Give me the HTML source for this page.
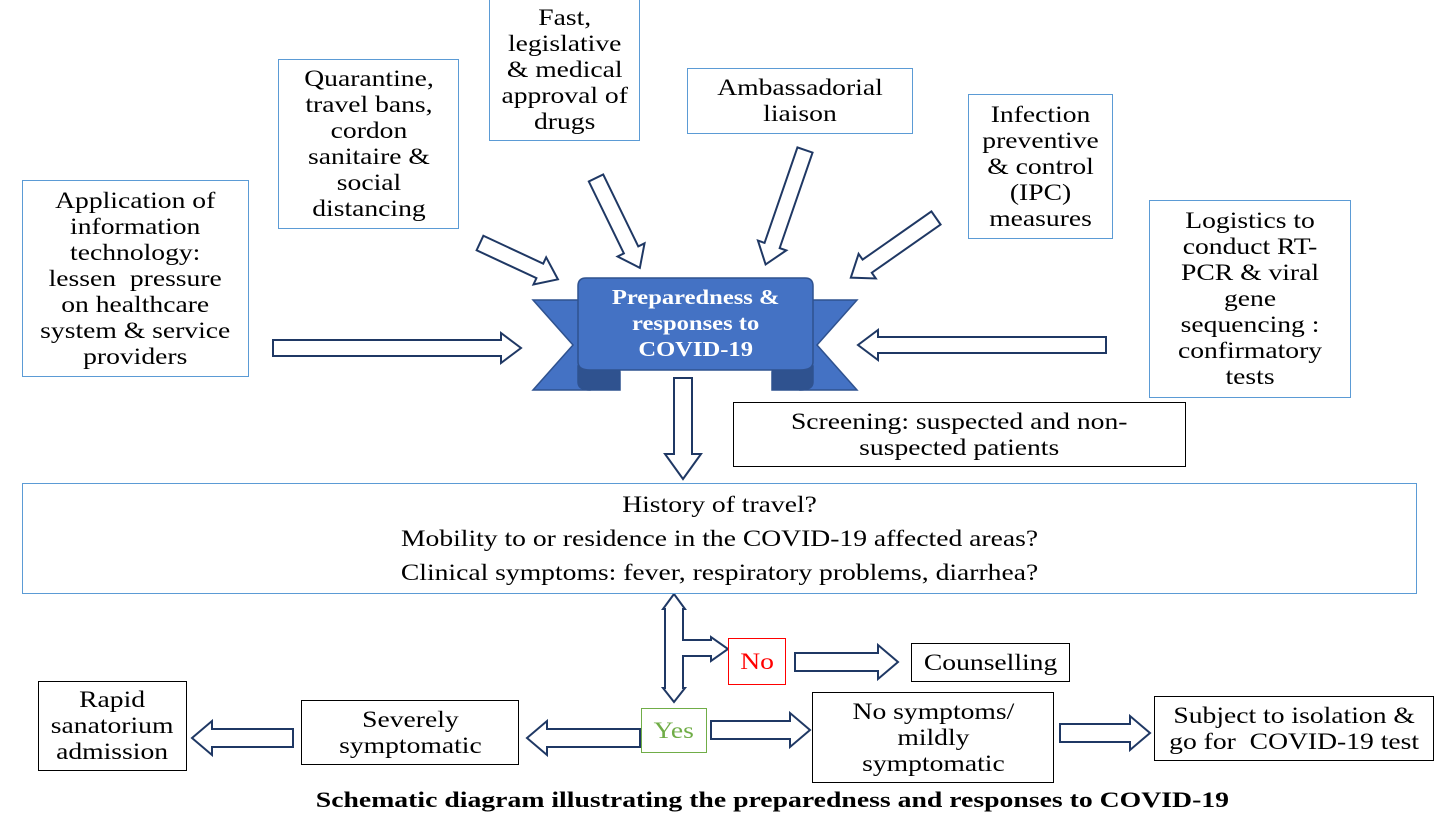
<!DOCTYPE html>
<html><head><meta charset="utf-8"><style>
body{margin:0;width:1443px;height:819px;background:#fff;position:relative;overflow:hidden;font-family:"Liberation Serif",serif;}
.b{position:absolute;box-sizing:border-box;border:1.5px solid #5b9bd5;display:flex;align-items:center;justify-content:center;text-align:center;font-size:23px;line-height:26px;color:#000;background:#fff;}
.b>span{display:inline-block;white-space:nowrap;transform:scaleX(1.2);}
.k{border-color:#000;}
svg{position:absolute;left:0;top:0;}
</style></head><body>
<svg width="1443" height="819">
<g fill="#fff" stroke="#1f3864" stroke-width="2">
<polygon transform="translate(273,348)" points="0,-8 228,-8 228,-15 248,0 228,15 228,8 0,8"/>
<polygon transform="translate(1106,345) rotate(180)" points="0,-8 228,-8 228,-15 248,0 228,15 228,8 0,8"/>
<polygon transform="translate(480,243) rotate(25)" points="0,-8 66,-8 66,-15 86,0 66,15 66,8 0,8"/>
<polygon transform="translate(596,178) rotate(64)" points="0,-8 80,-8 80,-15 100,0 80,15 80,8 0,8"/>
<polygon transform="translate(805,150) rotate(109)" points="0,-8 101,-8 101,-15 121,0 101,15 101,8 0,8"/>
<polygon transform="translate(936,218) rotate(145)" points="0,-8 84,-8 84,-15 104,0 84,15 84,8 0,8"/>
<polygon transform="translate(683,378) rotate(90)" points="0,-9 76,-9 76,-18 101,0 76,18 76,9 0,9"/>
<polygon points="674,594 685,609 683,609 683,640 711,640 711,637 728,649 711,661 711,656 683,656 683,688 685,688 674,702 663,688 665,688 665,609 663,609"/>
<polygon transform="translate(795,662)" points="0,-9 83,-9 83,-17 103,0 83,17 83,9 0,9"/>
<polygon transform="translate(711,730)" points="0,-9 79,-9 79,-17 99,0 79,17 79,9 0,9"/>
<polygon transform="translate(640,738) rotate(180)" points="0,-9 93,-9 93,-17 113,0 93,17 93,9 0,9"/>
<polygon transform="translate(293,738) rotate(180)" points="0,-9 81,-9 81,-17 101,0 81,17 81,9 0,9"/>
<polygon transform="translate(1060,733)" points="0,-9 70,-9 70,-17 90,0 70,17 70,9 0,9"/>
</g>
<g stroke="#2f528f" stroke-width="1.5">
<polygon points="533,300 590,300 590,390 533,390 573,345" fill="#4472c4"/>
<polygon points="857,300 800,300 800,390 857,390 817,345" fill="#4472c4"/>
<path d="M578,366 L578,382 Q578,390 590,390 L620,390 L620,372 Q620,366 605,366 Z" fill="#2f528f"/>
<path d="M813,366 L813,382 Q813,390 800,390 L772,390 L772,372 Q772,366 790,366 Z" fill="#2f528f"/>
<path d="M586,278 L805,278 Q813,278 813,286 L813,362 Q813,370 800,370 L590,370 Q578,370 578,362 L578,286 Q578,278 586,278 Z" fill="#4472c4"/>
</g>
</svg>
<div style="position:absolute;left:578px;top:284px;width:235px;text-align:center;color:#fff;font-weight:bold;font-size:21px;line-height:26px;"><span style="display:inline-block;transform:scaleX(1.17);">Preparedness &amp;<br>responses to<br>COVID-19</span></div>

<div class="b" style="left:22px;top:180px;width:227px;height:197px;"><span>Application of<br>information<br>technology:<br>lessen&nbsp; pressure<br>on healthcare<br>system &amp; service<br>providers</span></div>
<div class="b" style="left:278px;top:59px;width:181px;height:170px;"><span>Quarantine,<br>travel bans,<br>cordon<br>sanitaire &amp;<br>social<br>distancing</span></div>
<div class="b" style="left:489px;top:-10px;width:151px;height:151px;padding-top:8px;"><span>Fast,<br>legislative<br>&amp; medical<br>approval of<br>drugs</span></div>
<div class="b" style="left:687px;top:68px;width:226px;height:66px;"><span>Ambassadorial<br>liaison</span></div>
<div class="b" style="left:968px;top:94px;width:145px;height:145px;"><span>Infection<br>preventive<br>&amp; control<br>(IPC)<br>measures</span></div>
<div class="b" style="left:1149px;top:200px;width:202px;height:198px;"><span>Logistics to<br>conduct RT-<br>PCR &amp; viral<br>gene<br>sequencing :<br>confirmatory<br>tests</span></div>
<div class="b k" style="left:733px;top:402px;width:453px;height:65px;"><span>Screening: suspected and non-<br>suspected patients</span></div>
<div class="b" style="left:22px;top:483px;width:1395px;height:111px;line-height:34px;"><span>History of travel?<br>Mobility to or residence in the COVID-19 affected areas?<br>Clinical symptoms: fever, respiratory problems, diarrhea?</span></div>
<div class="b" style="left:728px;top:638px;width:58px;height:47px;border-color:#ff0000;color:#ff0000;"><span>No</span></div>
<div class="b k" style="left:911px;top:643px;width:159px;height:39px;"><span>Counselling</span></div>
<div class="b" style="left:641px;top:708px;width:66px;height:45px;border-color:#70ad47;color:#70ad47;"><span>Yes</span></div>
<div class="b k" style="left:38px;top:681px;width:149px;height:90px;"><span>Rapid<br>sanatorium<br>admission</span></div>
<div class="b k" style="left:301px;top:700px;width:218px;height:65px;"><span>Severely<br>symptomatic</span></div>
<div class="b k" style="left:812px;top:692px;width:242px;height:91px;"><span>No symptoms/<br>mildly<br>symptomatic</span></div>
<div class="b k" style="left:1154px;top:696px;width:280px;height:65px;"><span>Subject to isolation &amp;<br>go for&nbsp; COVID-19 test</span></div>
<div style="position:absolute;left:0;top:787px;width:1545px;text-align:center;font-weight:bold;font-size:22px;"><span style="display:inline-block;transform:scaleX(1.26);">Schematic diagram illustrating the preparedness and responses to COVID-19</span></div>
</body></html>
